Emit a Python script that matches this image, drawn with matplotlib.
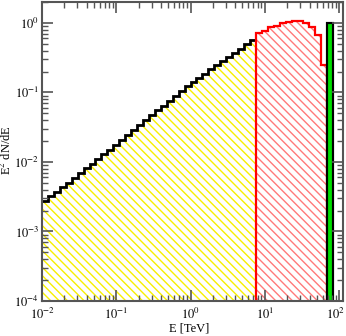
import numpy as np
import matplotlib
matplotlib.use("Agg")
import matplotlib.pyplot as plt
import matplotlib.transforms as mtransforms
from matplotlib.ticker import LogLocator, FuncFormatter, NullFormatter

plt.rcParams['font.family'] = ['Liberation Serif', 'DejaVu Serif']
plt.rcParams['mathtext.fontset'] = 'stix'
plt.rcParams['hatch.linewidth'] = 1.0

# 50 log bins from 1e-2 to 1e2 TeV
edges_all = np.logspace(-2, 2, 51)

# black (yellow-hatched) part: bins 0..35
black_vals = [0.0027, 0.0032, 0.0037, 0.0044, 0.0050, 0.0059, 0.0069, 0.0081,
              0.0093, 0.0110, 0.0129, 0.0151, 0.0178, 0.0209, 0.0245, 0.0288,
              0.0339, 0.0398, 0.0468, 0.0550, 0.0646, 0.0759, 0.0891, 0.105,
              0.123, 0.141, 0.162, 0.186, 0.214, 0.245, 0.282, 0.324,
              0.372, 0.427, 0.500, 0.575]
# red part: bins 36..47
red_vals = [0.71, 0.775, 0.86, 0.915, 0.99, 1.04, 1.07, 1.07, 1.01, 0.87, 0.66, 0.25]
# green bar: bin 48
green_val = [1.0]

nb = len(black_vals)
nr = len(red_vals)
black_edges = edges_all[:nb + 1]
red_edges = edges_all[nb:nb + nr + 1]
green_edges = edges_all[nb + nr:nb + nr + 2]

fig = plt.figure(figsize=(3.46, 3.36), dpi=100)
ax = fig.add_axes([42/346, 1 - 301/336, 301/346, 299/336])

ymin = 1e-4

# yellow hatched fill
ax.stairs(black_vals, black_edges, baseline=ymin, fill=True, facecolor='none',
          edgecolor='#f8f000', hatch='\\\\\\\\', linewidth=0)
ax.stairs(black_vals, black_edges, baseline=None, color='black', linewidth=2.0)

# red hatched fill
ax.stairs(red_vals, red_edges, baseline=ymin, fill=True, facecolor='none',
          edgecolor='#ff7a7a', hatch='\\\\\\\\', linewidth=0)
ax.stairs(red_vals, red_edges, baseline=ymin, color='red', linewidth=1.6)

# green bar
ax.stairs(green_val, green_edges, baseline=ymin, fill=True, facecolor='#00e000',
          edgecolor='black', linewidth=1.5)
ax.stairs(green_val, green_edges, baseline=ymin, color='black', linewidth=1.5)

ax.set_xscale('log')
ax.set_yscale('log')
ax.set_xlim(1e-2, 113)
ax.set_ylim(ymin, 2.0)

def fmt(v, pos):
    e = int(round(np.log10(v)))
    return r'$10^{%d}$' % e

for axis in (ax.xaxis, ax.yaxis):
    axis.set_major_locator(LogLocator(base=10, numticks=10))
    axis.set_minor_locator(LogLocator(base=10, subs=np.arange(2, 10), numticks=20))
    axis.set_major_formatter(FuncFormatter(fmt))
    axis.set_minor_formatter(NullFormatter())

ax.tick_params(which='both', direction='in', top=True, right=True, color='#555555')
ax.tick_params(which='major', length=8, width=1.2, labelsize=9)
ax.tick_params(which='minor', length=4.5, width=1.0)
ax.tick_params(axis='x', which='major', pad=4)
ax.tick_params(axis='y', which='major', pad=2)
for s in ax.spines.values():
    s.set_color('#555555')
    s.set_linewidth(1.5)

ax.set_xlabel('E [TeV]', fontsize=9)
ax.set_ylabel(r'E$^2$ dN/dE', fontsize=9)
ax.xaxis.set_label_coords(0.49, -0.072)
ax.yaxis.set_label_coords(-0.092, 0.505)

fig.canvas.draw()
off = mtransforms.ScaledTranslation(-4/100, 0, fig.dpi_scale_trans)
for t in ax.xaxis.get_major_ticks():
    if abs(t.get_loc() - 100) < 1e-6:
        t.label1.set_transform(t.label1.get_transform() + off)

fig.savefig('out.png', dpi=100)
